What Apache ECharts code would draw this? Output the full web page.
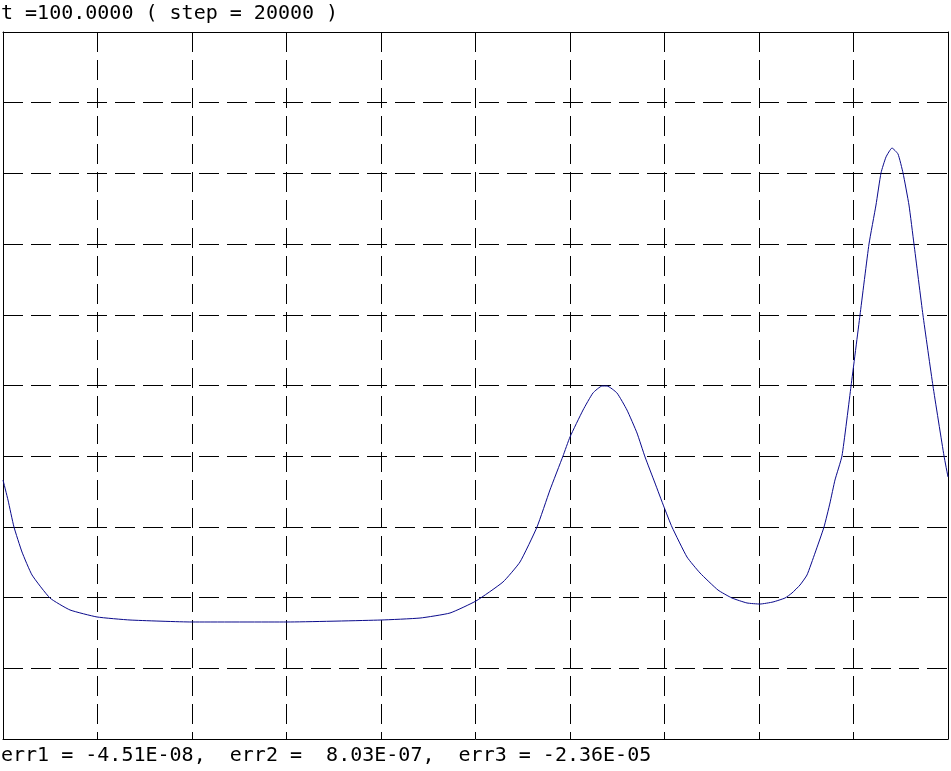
<!DOCTYPE html>
<html>
<head>
<meta charset="utf-8">
<script src="https://cdn.jsdelivr.net/npm/echarts@6/dist/echarts.min.js"></script>
<style>html,body{margin:0;padding:0;background:#fff;}#c{width:951px;height:771px;}</style>
</head>
<body>
<div id="c"></div>
<script>
// Chart values (grid units, 0..10 on both axes)
const titleText = 't =100.0000 ( step = 20000 )';
const footerText = 'err1 = -4.51E-08,  err2 =  8.03E-07,  err3 = -2.36E-05';
const xMin = 0, xMax = 10, xStep = 1;
const yMin = 0, yMax = 10, yStep = 1;
const curveX = [0.000,0.053,0.116,0.201,0.307,0.497,0.709,0.995,1.344,2.000,3.005,4.000,4.413,4.730,5.005,5.291,5.471,5.651,5.788,5.926,6.000,6.138,6.243,6.339,6.392,6.497,6.603,6.709,6.794,6.899,6.995,7.079,7.238,7.376,7.566,7.714,7.873,8.011,8.148,8.275,8.349,8.434,8.508,8.593,8.688,8.751,8.804,8.878,8.974,9.069,9.164,9.238,9.291,9.344,9.407,9.471,9.524,9.587,9.640,9.735,9.841,9.958,10.000];
const curveY = [3.663,3.380,2.999,2.645,2.320,1.994,1.825,1.726,1.683,1.655,1.655,1.683,1.711,1.782,1.952,2.221,2.504,2.999,3.522,4.003,4.272,4.653,4.894,4.993,4.993,4.894,4.653,4.328,3.989,3.621,3.281,2.999,2.574,2.348,2.107,1.994,1.924,1.909,1.938,1.994,2.065,2.178,2.320,2.631,2.999,3.338,3.663,4.003,4.993,5.997,7.001,7.553,8.006,8.232,8.359,8.274,8.006,7.553,7.001,5.997,4.993,4.003,3.706];

const curve = curveX.map((x, i) => [x, curveY[i]]);
const mono = 'DejaVu Sans Mono';
const dash = [20, 8];

const chart = echarts.init(document.getElementById('c'), null, {renderer: 'canvas'});
const hiddenAxisBits = {axisTick: {show: false}, axisLabel: {show: false}};
chart.setOption({
  animation: false,
  backgroundColor: '#ffffff',
  grid: {left: 3, right: 3, top: 32, bottom: 32, containLabel: false},
  title: {
    text: titleText, left: 1, top: 4, padding: 0,
    textStyle: {fontFamily: mono, fontSize: 20, fontWeight: 'normal', color: '#000'}
  },
  graphic: [{
    type: 'text', left: 1, top: 746,
    style: {text: footerText, font: '20px "DejaVu Sans Mono"', fill: '#000'}
  }],
  xAxis: [
    Object.assign({type: 'value', min: xMin, max: xMax, interval: xStep, position: 'bottom',
      axisLine: {show: true, onZero: false, lineStyle: {color: '#000', width: 1}},
      splitLine: {show: true, showMinLine: false, showMaxLine: false, lineStyle: {color: '#000', width: 1, type: dash}}}, hiddenAxisBits),
    Object.assign({type: 'value', min: xMin, max: xMax, interval: xStep, position: 'top',
      axisLine: {show: true, onZero: false, lineStyle: {color: '#000', width: 1}},
      splitLine: {show: false}}, hiddenAxisBits)
  ],
  yAxis: [
    Object.assign({type: 'value', min: yMin, max: yMax, interval: yStep, position: 'left',
      axisLine: {show: true, onZero: false, lineStyle: {color: '#000', width: 1}},
      splitLine: {show: true, showMinLine: false, showMaxLine: false, lineStyle: {color: '#000', width: 1, type: dash}}}, hiddenAxisBits),
    Object.assign({type: 'value', min: yMin, max: yMax, interval: yStep, position: 'right',
      axisLine: {show: true, onZero: false, lineStyle: {color: '#000', width: 1}},
      splitLine: {show: false}}, hiddenAxisBits)
  ],
  series: [{
    type: 'line', data: curve, xAxisIndex: 0, yAxisIndex: 0,
    showSymbol: false, smooth: 0.15, clip: true,
    lineStyle: {color: '#0a0a8c', width: 1}, z: 5
  }]
});
</script>
</body>
</html>
